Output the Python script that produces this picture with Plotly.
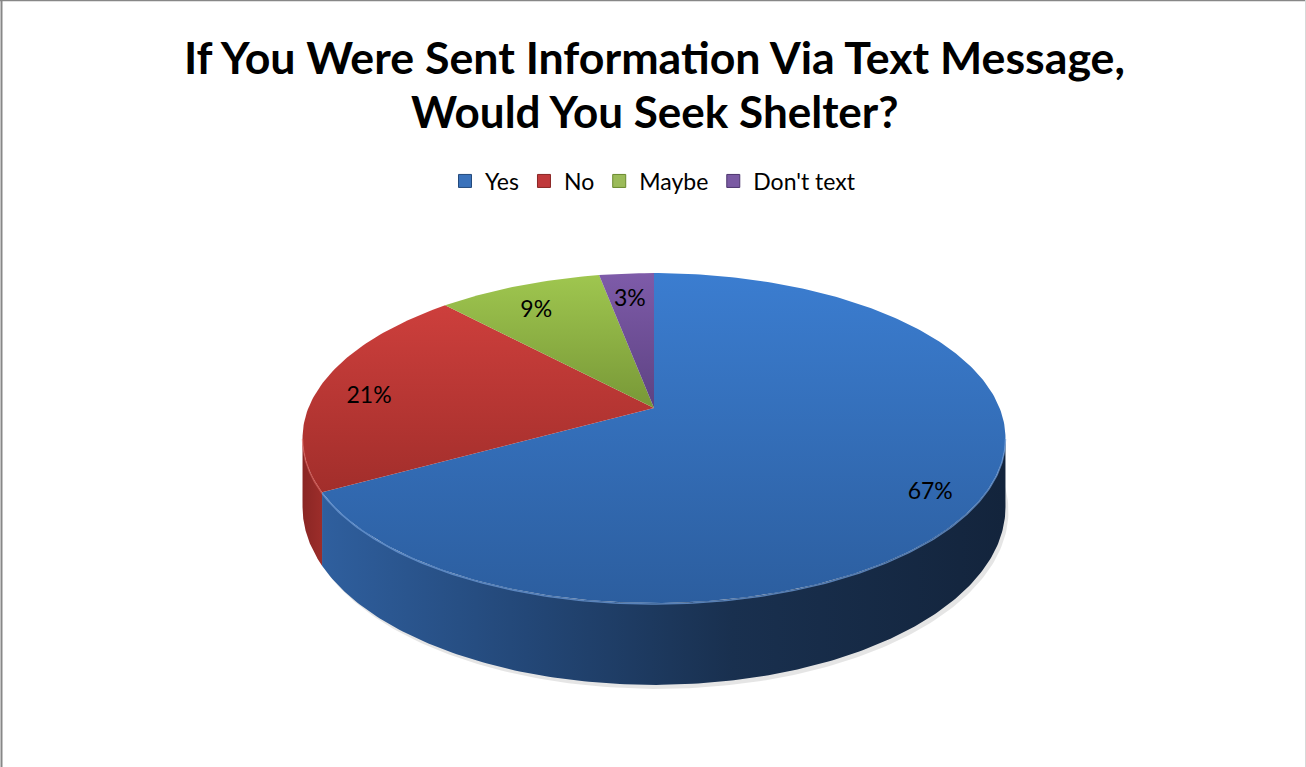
import numpy as np
import plotly.graph_objects as go

# ---- data ----
labels = ["Yes", "No", "Maybe", "Don't text"]
values = [67, 21, 9, 3]
label_text = ["67%", "21%", "9%", "3%"]
title_lines = ["If You Were Sent Information Via Text Message,", "Would You Seek Shelter?"]

# ---- styling ----
top_colors = [["#3b7dd0", "#2c5e9f"], ["#cd3f3c", "#a22e2b"],
              ["#9fc64f", "#789837"], ["#7e5ba9", "#5d4282"]]
side_scales = [
    [[0, "#2f5f9e"], [0.3, "#234777"], [0.6, "#19304f"], [1, "#13243c"]],
    [[0, "#8a2624"], [1, "#9c2d2a"]],
    [[0, "#7a9a38"], [1, "#6a8a2e"]],
    [[0, "#5d4282"], [1, "#4d366e"]],
]
rim_colors = ["rgba(110,155,215,0.75)", "rgba(225,110,105,0.6)",
              "rgba(180,210,120,0.6)", "rgba(160,130,200,0.6)"]
legend_colors = ["#3a72bb", "#c0393b", "#9bbb59", "#7a5aa3"]
legend_line = ["#244a7c", "#8a2624", "#6a8a2e", "#4d366e"]

W, H = 1306, 767
CX, CY = 654, 408          # apex of the pie on screen
A, B, K = 345.6, 159.5, 0.182  # radii and perspective factor
DEPTH = 67
FONT = "Lato"


def proj(theta, r=1.0, z=0.0):
    u = r * np.sin(theta)
    v = -r * np.cos(theta)
    w = 1 - K * v
    return CX + A * u / w, CY + (B * v + z) / w


fig = go.Figure()

fracs = np.array(values, dtype=float) / np.sum(values)
cum = np.concatenate([[0], np.cumsum(fracs)]) * 2 * np.pi
f0 = np.pi / 2 + np.arcsin(K)
f1 = 3 * np.pi / 2 - np.arcsin(K)

# soft shadow
ts = np.linspace(f0 - 0.3, f1 + 0.3, 200)
sx, sy = proj(ts, 1.0, DEPTH)
sx2, sy2 = proj(ts[::-1], 1.0, DEPTH - 12)
fig.add_trace(go.Scatter(x=np.concatenate([sx + 3, sx2]), y=np.concatenate([sy + 4, sy2]),
                         fill="toself", fillcolor="rgba(0,0,0,0.10)", mode="lines",
                         line=dict(width=0), hoverinfo="skip", showlegend=False))

# sides
for i in range(len(values)):
    a, b = max(cum[i], f0), min(cum[i + 1], f1)
    if b <= a:
        continue
    t = np.linspace(a, b, 200)
    xt, yt = proj(t)
    xb, yb = proj(t[::-1], 1.0, DEPTH)
    fig.add_trace(go.Scatter(x=np.concatenate([xt, xb]), y=np.concatenate([yt, yb]),
                             fill="toself", mode="lines", line=dict(width=0),
                             fillgradient=dict(type="horizontal", colorscale=side_scales[i]),
                             hoverinfo="skip", showlegend=False))

# top faces (vertical gradient: 0 = screen bottom on reversed axis)
for i in range(len(values)):
    t = np.linspace(cum[i], cum[i + 1], max(8, int(400 * fracs[i])))
    xt, yt = proj(t)
    fig.add_trace(go.Scatter(x=np.concatenate([[CX], xt, [CX]]), y=np.concatenate([[CY], yt, [CY]]),
                             fill="toself", mode="lines", line=dict(width=0),
                             fillgradient=dict(type="vertical",
                                               colorscale=[[0, top_colors[i][1]], [1, top_colors[i][0]]]),
                             name=labels[i], hoverinfo="skip", showlegend=False))

# rim highlights
for i in range(len(values)):
    a, b = max(cum[i], f0), min(cum[i + 1], f1)
    if b <= a:
        continue
    t = np.linspace(a, b, 200)
    xt, yt = proj(t)
    fig.add_trace(go.Scatter(x=xt, y=yt + 1, mode="lines", line=dict(width=1.5, color=rim_colors[i]),
                             hoverinfo="skip", showlegend=False))

# data labels
mids = (cum[:-1] + cum[1:]) / 2
lx, ly = proj(mids, 0.855)
fig.add_trace(go.Scatter(x=lx, y=ly + 10, mode="text", text=label_text,
                         textfont=dict(family=FONT, size=23, color="#000000"),
                         hoverinfo="skip", showlegend=False))

# legend entries
for i, lab in enumerate(labels):
    fig.add_trace(go.Scatter(x=[None], y=[None], mode="markers", name=lab,
                             marker=dict(symbol="square", size=13, color=legend_colors[i],
                                         line=dict(color=legend_line[i], width=1))))

# title
fig.add_annotation(x=CX, y=57, text="<b>%s</b>" % title_lines[0], showarrow=False,
                   xref="x", yref="y", xanchor="center", yanchor="middle",
                   font=dict(family=FONT, size=44.7, color="#000000"))
fig.add_annotation(x=CX, y=111, text="<b>%s</b>" % title_lines[1], showarrow=False,
                   xref="x", yref="y", xanchor="center", yanchor="middle",
                   font=dict(family=FONT, size=44, color="#000000"))

# frame
fig.add_shape(type="line", x0=1.5, x1=1.5, y0=0, y1=H, xref="x", yref="y",
              line=dict(color="#878787", width=2))
fig.add_shape(type="line", x0=0, x1=W, y0=0.5, y1=0.5, xref="x", yref="y",
              line=dict(color="#878787", width=1.5))
fig.add_shape(type="line", x0=W - 0.5, x1=W - 0.5, y0=0, y1=H, xref="x", yref="y",
              line=dict(color="#d8d8d8", width=1))

fig.update_layout(
    width=W, height=H, margin=dict(l=0, r=0, t=0, b=0),
    paper_bgcolor="white", plot_bgcolor="white",
    xaxis=dict(range=[0, W], visible=False, fixedrange=True),
    yaxis=dict(range=[H, 0], visible=False, fixedrange=True),
    legend=dict(orientation="h", x=0.5, xanchor="center", y=1 - 181 / H, yanchor="middle",
                font=dict(family=FONT, size=23, color="#000000"), bgcolor="rgba(0,0,0,0)"),
    showlegend=True,
)

fig.write_html("out.html")
